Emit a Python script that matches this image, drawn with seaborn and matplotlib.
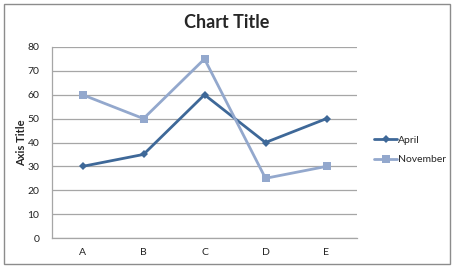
import matplotlib
matplotlib.use("Agg")
import matplotlib.pyplot as plt
import seaborn as sns
import pandas as pd
from matplotlib.patches import Rectangle
from matplotlib.lines import Line2D

categories = ["A", "B", "C", "D", "E"]
april = [30, 35, 60, 40, 50]
november = [60, 50, 75, 25, 30]
series_names = ["April", "November"]
yticks = [0, 10, 20, 30, 40, 50, 60, 70, 80]

sns.set_theme(style="white")
plt.rcParams['font.family'] = ['Lato', 'DejaVu Sans']

df = pd.DataFrame({
    "cat": categories * 2,
    "value": april + november,
    "series": [series_names[0]] * len(categories) + [series_names[1]] * len(categories),
})

colors = {"April": "#3E6898", "November": "#93A8CD"}
markers = {"April": "D", "November": "s"}
msize = {"April": 4.5, "November": 6}

fig = plt.figure(figsize=(4.54, 2.68), dpi=100)
ax = fig.add_axes([52/454, 30/268, 305/454, 191/268])

for name in series_names:
    sub = df[df["series"] == name]
    sns.lineplot(data=sub, x="cat", y="value", ax=ax, color=colors[name],
                 marker=markers[name], markersize=msize[name], linewidth=2,
                 markeredgewidth=0, sort=False, legend=False)

ax.set_xlim(-0.5, 4.5)
ax.set_ylim(0, 80)
ax.set_yticks(yticks)
ax.grid(axis="y", color="#A6A6A6", linewidth=0.9)
ax.set_axisbelow(True)
for s in ["top", "right"]:
    ax.spines[s].set_visible(False)
for s in ["left", "bottom"]:
    ax.spines[s].set_color("#A6A6A6")
    ax.spines[s].set_linewidth(0.9)
ax.tick_params(axis="both", length=0, labelsize=7.5, colors="#222222")
ax.tick_params(axis="y", pad=9)
ax.tick_params(axis="x", pad=7)
ax.set_xlabel("")
ax.set_ylabel("Axis Title", fontsize=8, fontweight="bold")
ax.yaxis.set_label_coords(-0.083, 0.5)

fig.text(0.5, 1 - 23/268, "Chart Title", ha="center", va="center",
         fontsize=13, fontweight="bold")

handles = [Line2D([0], [0], color=colors[n], marker=markers[n], markersize=msize[n],
                  markeredgewidth=0, linewidth=2) for n in series_names]
fig.legend(handles, series_names, loc="center left", bbox_to_anchor=(370/454, 1 - 150/268),
           frameon=False, fontsize=7.5, handlelength=2.2, handletextpad=0.1,
           labelspacing=1.0, borderaxespad=0)

fig.patches.append(Rectangle((4/454, 4/268), 446/454, 260/268, transform=fig.transFigure,
                             fill=False, edgecolor="#8C8C8C", linewidth=1))

fig.savefig("out.png", dpi=100)
